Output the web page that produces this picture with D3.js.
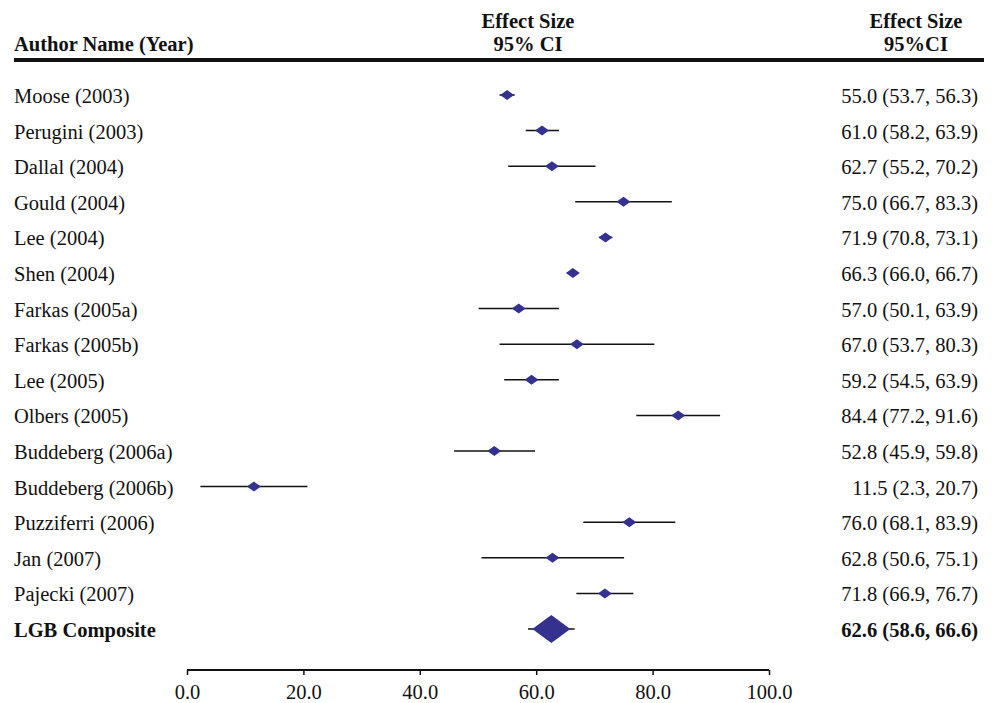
<!DOCTYPE html>
<html>
<head>
<meta charset="utf-8">
<title>Forest plot</title>
<style>
  body { margin: 0; background: #fff; }
  text { font-family: "Liberation Serif", "Times New Roman", serif; fill: #111; }
</style>
</head>
<body>
<script src="https://d3js.org/d3.v7.min.js"></script>
<script>
// data
var studies = ["Moose (2003)", "Perugini (2003)", "Dallal (2004)", "Gould (2004)", "Lee (2004)",
  "Shen (2004)", "Farkas (2005a)", "Farkas (2005b)", "Lee (2005)", "Olbers (2005)",
  "Buddeberg (2006a)", "Buddeberg (2006b)", "Puzziferri (2006)", "Jan (2007)", "Pajecki (2007)"];
var effect = [55.0, 61.0, 62.7, 75.0, 71.9, 66.3, 57.0, 67.0, 59.2, 84.4, 52.8, 11.5, 76.0, 62.8, 71.8];
var lower  = [53.7, 58.2, 55.2, 66.7, 70.8, 66.0, 50.1, 53.7, 54.5, 77.2, 45.9, 2.3, 68.1, 50.6, 66.9];
var upper  = [56.3, 63.9, 70.2, 83.3, 73.1, 66.7, 63.9, 80.3, 63.9, 91.6, 59.8, 20.7, 83.9, 75.1, 76.7];
var compositeLabel = "LGB Composite";
var composite = {es: 62.6, lo: 58.6, hi: 66.6};
var xTicks = [0, 20, 40, 60, 80, 100];

var width = 999, height = 703;
var fs = "20.5px";
var svg = d3.select("body").append("svg")
  .attr("width", width)
  .attr("height", height);

var x = d3.scaleLinear().domain([0, 100]).range([187, 769]);
var rows = studies.concat([compositeLabel]);
var y = d3.scaleLinear().domain([0, rows.length - 1]).range([95, 629]);
var fmt = d3.format(".1f");
var diamondColor = "#35318f";

// header
function header(tx, ty, anchor, s) {
  svg.append("text").attr("x", tx).attr("y", ty).attr("text-anchor", anchor)
    .style("font-size", fs).style("font-weight", "bold").text(s);
}
header(14, 51, "start", "Author Name (Year)");
header(528, 28, "middle", "Effect Size");
header(528, 51, "middle", "95% CI");
header(916, 28, "middle", "Effect Size");
header(916, 51, "middle", "95%CI");
svg.append("line").attr("x1", 14).attr("x2", 984).attr("y1", 60).attr("y2", 60)
  .attr("stroke", "#111").attr("stroke-width", 4);

// study labels
svg.selectAll(".name").data(studies).enter().append("text")
  .attr("class", "name")
  .attr("x", 14)
  .attr("y", function(d, i) { return y(i) + 8; })
  .style("font-size", fs)
  .text(function(d) { return d; });

// CI lines
svg.selectAll(".ci").data(studies).enter().append("line")
  .attr("class", "ci")
  .attr("x1", function(d, i) { return x(lower[i]); })
  .attr("x2", function(d, i) { return x(upper[i]); })
  .attr("y1", function(d, i) { return y(i); })
  .attr("y2", function(d, i) { return y(i); })
  .attr("stroke", "#111").attr("stroke-width", 1.5);

// diamonds
svg.selectAll(".pt").data(studies).enter().append("path")
  .attr("class", "pt")
  .attr("d", function(d, i) {
    var cx = x(effect[i]), cy = y(i);
    return "M" + (cx - 7) + "," + cy + "L" + cx + "," + (cy - 5) + "L" + (cx + 7) + "," + cy + "L" + cx + "," + (cy + 5) + "Z";
  })
  .attr("fill", diamondColor);

// right column values
svg.selectAll(".val").data(studies).enter().append("text")
  .attr("class", "val")
  .attr("x", 978)
  .attr("y", function(d, i) { return y(i) + 8; })
  .attr("text-anchor", "end")
  .style("font-size", fs)
  .text(function(d, i) { return fmt(effect[i]) + " (" + fmt(lower[i]) + ", " + fmt(upper[i]) + ")"; });

// composite
var cy = y(rows.length - 1);
svg.append("text").attr("x", 14).attr("y", cy + 8)
  .style("font-size", fs).style("font-weight", "bold").text(compositeLabel);
svg.append("line").attr("x1", x(composite.lo)).attr("x2", x(composite.hi))
  .attr("y1", cy).attr("y2", cy).attr("stroke", "#111").attr("stroke-width", 1.5);
var ccx = x(composite.es);
svg.append("path")
  .attr("d", "M" + (ccx - 19) + "," + cy + "L" + ccx + "," + (cy - 14) + "L" + (ccx + 19) + "," + cy + "L" + ccx + "," + (cy + 14) + "Z")
  .attr("fill", diamondColor);
svg.append("text").attr("x", 978).attr("y", cy + 8).attr("text-anchor", "end")
  .style("font-size", fs).style("font-weight", "bold")
  .text(fmt(composite.es) + " (" + fmt(composite.lo) + ", " + fmt(composite.hi) + ")");

// axis
var axis = svg.append("g")
  .attr("transform", "translate(0,670)")
  .call(d3.axisBottom(x).tickValues(xTicks).tickFormat(fmt).tickSize(5).tickPadding(9));
axis.select(".domain").attr("stroke", "#111").attr("stroke-width", 2)
  .attr("d", "M" + x(0) + ",0H" + x(100));
axis.selectAll(".tick line").attr("stroke", "#111").attr("stroke-width", 1.5);
axis.selectAll(".tick text")
  .style("font-family", "'Liberation Serif', 'Times New Roman', serif")
  .style("font-size", fs).attr("fill", "#111");
</script>
</body>
</html>
